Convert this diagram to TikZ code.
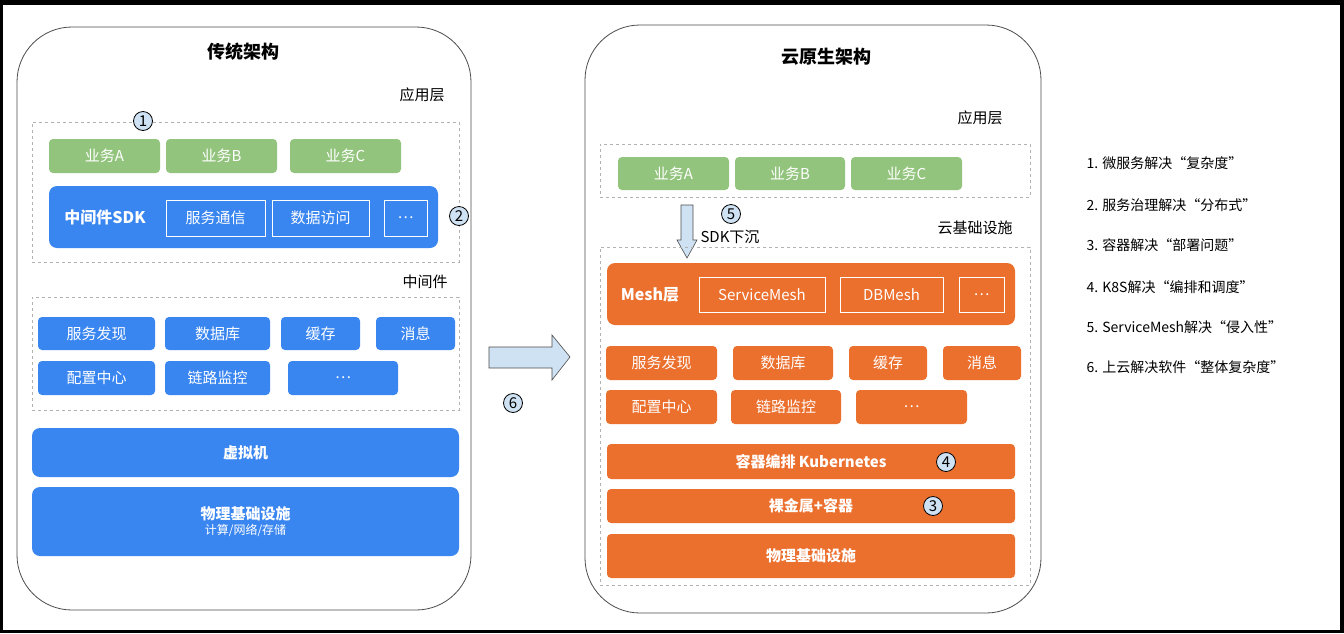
\documentclass[tikz,border=0pt]{standalone}
\usepackage{fontspec}
\setmainfont{Noto Sans CJK SC}
\definecolor{gr}{HTML}{93C47D}
\definecolor{bl}{HTML}{3A86F0}
\definecolor{og}{HTML}{EB6F2D}
\definecolor{cb}{HTML}{CFE2F3}
\newcommand\bx[7]{\node[#2,minimum width={#5pt-#3pt},minimum height={#6pt-#4pt}] (#1) at ({(#3+#5)/2},{(#4+#6)/2}) {#7};}
\tikzset{
 base/.style={inner sep=0,outer sep=0,rounded corners=4pt,text=white,font=\fontsize{15}{17}\selectfont},
 green/.style={base,fill=gr},
 blue/.style={base,fill=bl},
 orange/.style={base,fill=og},
 inner/.style={base,rounded corners=0,draw=white,line width=0.8pt},
 dbox/.style={inner sep=0,draw=gray!60,dashed,line width=0.6pt},
 big/.style={inner sep=0,draw=black!70,line width=0.8pt,rounded corners=55pt},
 lbl/.style={font=\fontsize{15}{17}\selectfont},
 num/.style={circle,draw=black,fill=cb,inner sep=0,minimum size=19pt,line width=0.8pt,font=\fontsize{15}{15}\selectfont},
 item/.style={anchor=west,font=\fontsize{14}{16}\selectfont},
 arr/.style={draw=black!70,fill=cb,line width=0.6pt}
}
\begin{document}
\begin{tikzpicture}[x=1pt,y=-1pt]
\fill[black] (0,0) rectangle (1344,633);
\fill[white] (3,5) rectangle (1340,630);
\useasboundingbox (0,0) rectangle (1344,633);
% left
\bx{L}{big}{17}{27}{471}{610}{}
\node[font=\bfseries\fontsize{18}{20}\selectfont] (t1) at (243,52) {传统架构};
\node[lbl] (a1) at (422,95) {应用层};
\bx{d1}{dbox}{32}{122}{459}{262}{}
\bx{ba}{green}{49}{139}{160}{173}{业务A}
\bx{bb}{green}{166}{139}{277}{173}{业务B}
\bx{bc}{green}{290}{139}{401}{173}{业务C}
\bx{sdk}{blue,rounded corners=8pt}{49}{186}{438}{248}{}
\node[text=white,font=\bfseries\fontsize{16}{18}\selectfont] (sdkt) at (105,217) {中间件SDK};
\bx{s1}{inner}{166}{200}{265}{236}{服务通信}
\bx{s2}{inner}{272}{200}{369}{236}{数据访问}
\bx{s3}{inner}{384}{200}{427}{236}{…}
\node[num] (n1) at (143,121) {1};
\node[num] (n2) at (459,216) {2};
\node[lbl] (m1) at (425,282) {中间件};
\bx{d2}{dbox}{32}{297}{459}{410}{}
\bx{l1}{blue}{38}{317}{155}{350}{服务发现}
\bx{l2}{blue}{165}{317}{270}{350}{数据库}
\bx{l3}{blue}{281}{317}{360}{350}{缓存}
\bx{l4}{blue}{376}{317}{455}{350}{消息}
\bx{l5}{blue}{38}{361}{155}{395}{配置中心}
\bx{l6}{blue}{165}{361}{270}{395}{链路监控}
\bx{l7}{blue}{288}{361}{398}{395}{…}
\bx{vm}{blue,rounded corners=8pt,font=\bfseries\fontsize{15}{17}\selectfont}{32}{428}{459}{477}{虚拟机}
\bx{phy}{blue,rounded corners=8pt,align=center,font=\bfseries\fontsize{15}{17}\selectfont}{32}{487}{459}{556}{物理基础设施\\[-2pt]{\mdseries\fontsize{12}{14}\selectfont 计算/网络/存储}}
% middle arrow
\draw[arr] (489,347) -- (552,347) -- (552,335) -- (570,357) -- (552,380) -- (552,368) -- (489,368) -- cycle;
\node[num] (n6) at (513,403) {6};
% right
\bx{R}{big}{585}{25}{1041}{613}{}
\node[font=\bfseries\fontsize{18}{20}\selectfont] (t2) at (826,57) {云原生架构};
\node[lbl] (a2) at (980,118) {应用层};
\bx{d3}{dbox}{600}{144}{1030}{197}{}
\bx{ra}{green}{618}{157}{729}{190}{业务A}
\bx{rb}{green}{735}{157}{845}{190}{业务B}
\bx{rc}{green}{851}{157}{962}{190}{业务C}
\draw[arr] (681,205) -- (693,205) -- (693,240) -- (697,240) -- (687,258) -- (677,240) -- (681,240) -- cycle;
\node[num] (n5) at (731,214) {5};
\node[lbl] (sk) at (730,237) {SDK下沉};
\node[lbl] (cl) at (975,228) {云基础设施};
\bx{d4}{dbox}{600}{247}{1030}{585}{}
\bx{mesh}{orange,rounded corners=8pt}{607}{263}{1015}{325}{}
\node[text=white,font=\bfseries\fontsize{16}{18}\selectfont] (mt) at (650,295) {Mesh层};
\bx{m1}{inner}{699}{277}{825}{312}{ServiceMesh}
\bx{m2}{inner}{840}{277}{943}{312}{DBMesh}
\bx{m3}{inner}{959}{277}{1004}{312}{…}
\bx{o1}{orange}{606}{346}{717}{380}{服务发现}
\bx{o2}{orange}{733}{346}{833}{380}{数据库}
\bx{o3}{orange}{849}{346}{927}{380}{缓存}
\bx{o4}{orange}{943}{346}{1021}{380}{消息}
\bx{o5}{orange}{606}{390}{717}{424}{配置中心}
\bx{o6}{orange}{731}{390}{841}{424}{链路监控}
\bx{o7}{orange}{856}{390}{967}{424}{…}
\bx{k8}{orange,font=\bfseries\fontsize{15}{17}\selectfont}{607}{444}{1015}{479}{容器编排 Kubernetes}
\bx{bm}{orange,font=\bfseries\fontsize{15}{17}\selectfont}{607}{489}{1015}{523}{裸金属+容器}
\bx{rp}{orange,font=\bfseries\fontsize{15}{17}\selectfont}{607}{534}{1015}{578}{物理基础设施}
\node[num] (n4) at (946,462) {4};
\node[num] (n3) at (933,506) {3};
% list
\node[item] (i1) at (1083,163) {1. 微服务解决“复杂度”};
\node[item] (i2) at (1083,205) {2. 服务治理解决“分布式”};
\node[item] (i3) at (1083,245) {3. 容器解决“部署问题”};
\node[item] (i4) at (1083,287) {4. K8S解决“编排和调度”};
\node[item] (i5) at (1083,327) {5. ServiceMesh解决“侵入性”};
\node[item] (i6) at (1083,367) {6. 上云解决软件“整体复杂度”};
\end{tikzpicture}
\end{document}
